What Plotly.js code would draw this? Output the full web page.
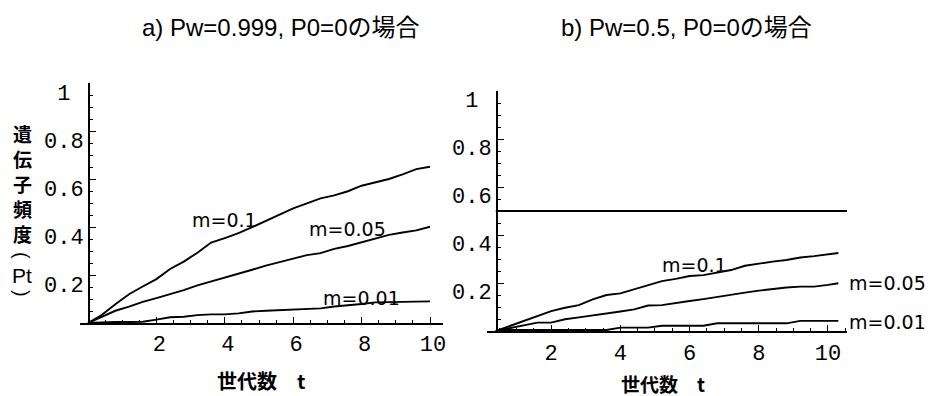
<!DOCTYPE html>
<html>
<head>
<meta charset="utf-8">
<script src="https://cdn.plot.ly/plotly-3.0.1.min.js"></script>
<style>html,body{margin:0;padding:0;background:#fff;}#chart{width:933px;height:396px;}</style>
</head>
<body>
<div id="chart"></div>
<script>
// ---- data: panel a) Pw=0.999 ----
const tA = [0,0.4,0.8,1.2,1.6,2.0,2.4,2.8,3.2,3.6,4.0,4.4,4.8,5.2,5.6,6.0,6.4,6.8,7.2,7.6,8.0,8.4,8.8,9.2,9.6,10.0];
const a_m01  = [0,0.033,0.078,0.120,0.152,0.183,0.225,0.256,0.293,0.335,0.354,0.374,0.399,0.424,0.452,0.478,0.500,0.519,0.532,0.549,0.572,0.586,0.600,0.619,0.641,0.651];
const a_m005 = [0,0.026,0.051,0.068,0.088,0.104,0.120,0.137,0.157,0.173,0.189,0.203,0.222,0.239,0.254,0.271,0.283,0.291,0.309,0.321,0.336,0.353,0.367,0.377,0.386,0.401];
const a_m001 = [0,0.003,0.004,0.004,0.005,0.014,0.024,0.026,0.033,0.036,0.036,0.040,0.048,0.051,0.053,0.057,0.057,0.061,0.069,0.073,0.079,0.086,0.087,0.088,0.090,0.090];

// ---- data: panel b) Pw=0.5 ----
const tB = [0.4,0.8,1.2,1.6,2.0,2.4,2.8,3.2,3.6,4.0,4.4,4.8,5.2,5.6,6.0,6.4,6.8,7.2,7.6,8.0,8.4,8.8,9.2,9.6,10.0,10.3];
const b_m01  = [0,0.021,0.042,0.060,0.083,0.097,0.108,0.132,0.150,0.157,0.175,0.192,0.208,0.217,0.229,0.233,0.245,0.254,0.272,0.282,0.289,0.296,0.306,0.312,0.320,0.325];
const b_m005 = [0,0.011,0.022,0.035,0.035,0.049,0.057,0.064,0.074,0.081,0.090,0.106,0.108,0.115,0.125,0.133,0.143,0.150,0.160,0.168,0.175,0.181,0.185,0.185,0.192,0.199];
const b_m001 = [0,0.004,0.004,0.004,0.004,0.004,0.004,0.004,0.004,0.014,0.014,0.014,0.022,0.022,0.022,0.022,0.032,0.032,0.032,0.032,0.032,0.032,0.042,0.042,0.042,0.042];
const pwLineX = [0.4, 10.55];
const pwLineY = [0.5, 0.5];

// ---- labels ----
const xTickVals = [2,4,6,8,10];
const xTickText = ['2','4','6','8','10'];
const yTickVals = [0.2,0.4,0.6,0.8,1];
const yTickText = ['0.2','0.4','0.6','0.8','1\u00a0'];
const seriesNames = ['m=0.1','m=0.05','m=0.01'];
const titleA = 'a) Pw=0.999, P0=0の場合';
const titleB = 'b) Pw=0.5, P0=0の場合';
const xTitle = '世代数\u3000t';
const yTitleChars = ['遺','伝','子','頻','度'];

const line = {color:'#000', width:1.9};
function tr(x,y,xa,ya,name){return {x:x,y:y,xaxis:xa,yaxis:ya,mode:'lines',line:line,name:name,showlegend:false,hoverinfo:'skip'};}

const data = [
  tr(tA,a_m01,'x','y',seriesNames[0]),
  tr(tA,a_m005,'x','y',seriesNames[1]),
  tr(tA,a_m001,'x','y',seriesNames[2]),
  tr(tB,b_m01,'x2','y2',seriesNames[0]),
  tr(tB,b_m005,'x2','y2',seriesNames[1]),
  tr(tB,b_m001,'x2','y2',seriesNames[2]),
  tr(pwLineX,pwLineY,'x2','y2','Pw')
];

const tickFont = {family:'Liberation Mono, Courier New, monospace', size:22, color:'#000'};
function xax(domain, range, anchor, shift, standoff){
  return {domain:domain, range:range, anchor:anchor, showline:true, linecolor:'#000', linewidth:1.5,
    ticks:'inside', ticklen:6, tickwidth:1, tickcolor:'#000', tickmode:'array', tickvals:xTickVals, ticktext:xTickText,
    minor:{dtick:0.5, tick0:0, ticks:'inside', ticklen:3, tickwidth:1, tickcolor:'#000'},
    tickfont:tickFont, showgrid:false, zeroline:false, ticklabelshift:shift, ticklabelstandoff:standoff, fixedrange:true};
}
function yax(domain, pos, shift, standoff){
  return {domain:domain, range:[0,1], anchor:'free', position:pos, showline:true, linecolor:'#000', linewidth:1.5,
    ticks:'inside', ticklen:6, tickwidth:1, tickcolor:'#000', tickmode:'array', tickvals:yTickVals, ticktext:yTickText,
    minor:{dtick:0.05, tick0:0, ticks:'inside', ticklen:3, tickwidth:1, tickcolor:'#000'},
    tickfont:tickFont, showgrid:false, zeroline:false, ticklabelshift:shift, ticklabelstandoff:standoff, fixedrange:true};
}

const lblFont = {family:'DejaVu Sans, sans-serif', size:19, color:'#000'};
const titleFont = {family:'Liberation Sans, Arial, Noto Sans CJK JP, sans-serif', size:24, color:'#000'};
const cjkBold = {family:'Noto Sans CJK JP, sans-serif', size:20, color:'#000', weight:'bold'};
const cjkBold19 = {family:'Noto Sans CJK JP, sans-serif', size:19, color:'#000', weight:'bold'};
const parenFont = {family:'Liberation Sans, Arial, sans-serif', size:20, color:'#000'};

function P(px, py){ return {x:px/933, y:(396-py)/396}; }
function pa(px, py, text, font, extra){
  return Object.assign(P(px,py), {xref:'paper', yref:'paper', text:text, showarrow:false, font:font, xanchor:'center', yanchor:'middle'}, extra||{});
}

const yTitleY = [133, 158.2, 183.4, 208.6, 233.8];
const annotations = [
  pa(280,27,titleA,titleFont),
  pa(686,27,titleB,titleFont),
  pa(261.5,380,xTitle,cjkBold),
  pa(663,383,xTitle,cjkBold19),
  pa(22,255,'(',parenFont,{textangle:90}),
  pa(22,275,'Pt',{family:'Liberation Sans, Arial, sans-serif', size:21, color:'#000'}),
  pa(22,293,')',parenFont,{textangle:90}),
  {xref:'x', yref:'y', x:3.98, y:0.431, text:seriesNames[0], showarrow:false, font:lblFont},
  {xref:'x', yref:'y', x:7.6, y:0.39, text:seriesNames[1], showarrow:false, font:lblFont},
  {xref:'x', yref:'y', x:8.01, y:0.104, text:seriesNames[2], showarrow:false, font:lblFont},
  {xref:'x2', yref:'y2', x:6.13, y:0.273, text:seriesNames[0], showarrow:false, font:lblFont},
  pa(847,283,seriesNames[1],lblFont,{xanchor:'left'}),
  pa(847,321.5,seriesNames[2],lblFont,{xanchor:'left'})
];
yTitleChars.forEach(function(c,i){ annotations.push(pa(22, yTitleY[i], c, cjkBold19)); });

const layout = {
  width:933, height:396, margin:{l:0,r:0,t:0,b:0}, paper_bgcolor:'#fff', plot_bgcolor:'rgba(0,0,0,0)',
  showlegend:false,
  xaxis: xax([80/933, 443/933], [-0.234, 10.38], 'y', 3, 0),
  yaxis: yax([(396-323)/396, (396-83)/396], 88/933, 9, 0),
  xaxis2: xax([487/933, 847/933], [0.145, 10.55], 'y2', 0, 1),
  yaxis2: yax([(396-331)/396, (396-91)/396], 496/933, 8, 0),
  annotations: annotations
};

Plotly.newPlot('chart', data, layout, {staticPlot:true, displayModeBar:false});
</script>
</body>
</html>
